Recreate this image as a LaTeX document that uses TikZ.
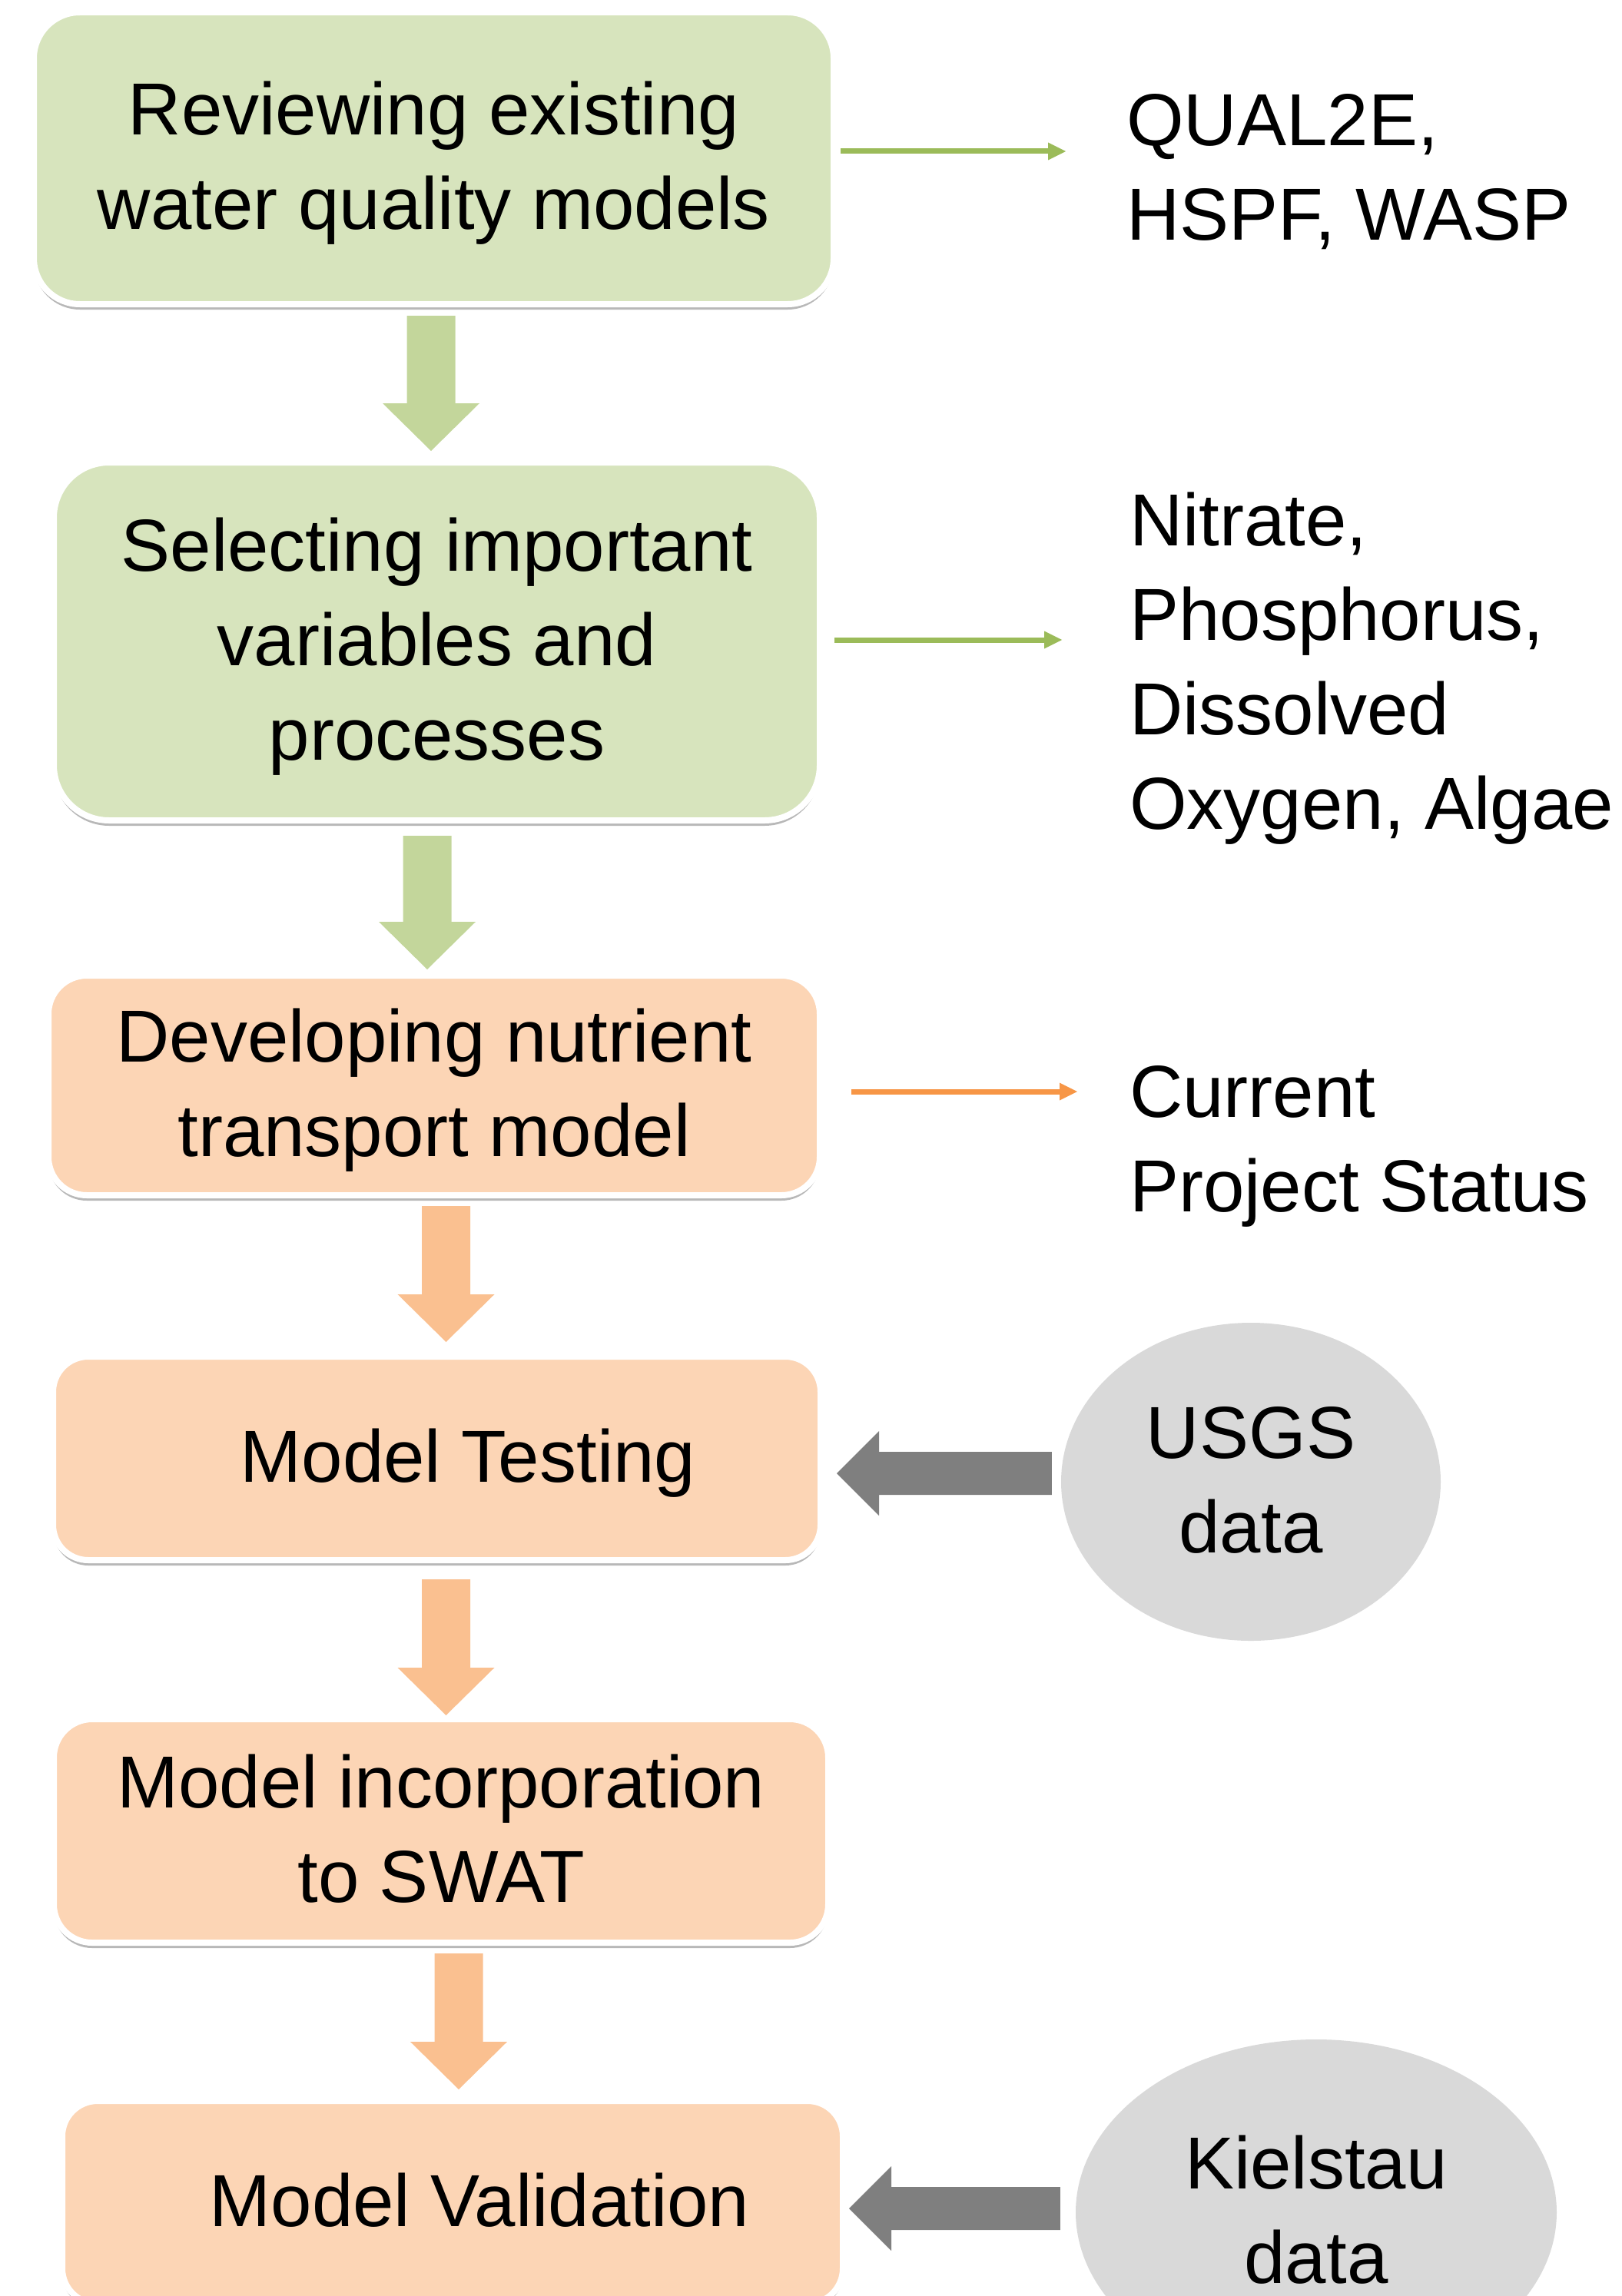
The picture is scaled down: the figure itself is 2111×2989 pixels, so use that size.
\documentclass[tikz,border=0pt]{standalone}
\usepackage{fontspec}
\setmainfont{Liberation Sans}
\usetikzlibrary{shapes.geometric,arrows.meta,calc,shadows}
\definecolor{gfill}{HTML}{D7E4BD}
\definecolor{ofill}{HTML}{FCD5B5}
\definecolor{garr}{HTML}{C3D69B}
\definecolor{oarr}{HTML}{FAC090}
\definecolor{gline}{HTML}{9BBB59}
\definecolor{oline}{HTML}{F79646}
\definecolor{grayfill}{HTML}{D9D9D9}
\definecolor{grayarr}{HTML}{7F7F7F}
\newcommand\tstr{\rule{0pt}{82pt}}
\newcommand\bstr{\rule[-20pt]{0pt}{20pt}}
% vertical block arrow: start (top), tip (bottom), colour
\newcommand\vblock[3]{%
  \fill[#3] let \p1=(#1), \p2=(#2) in
    (\x1-31.5pt,\y1) -- (\x1+31.5pt,\y1) -- (\x1+31.5pt,\y2+62pt) -- (\x1+63pt,\y2+62pt)
    -- (\x2,\y2) -- (\x1-63pt,\y2+62pt) -- (\x1-31.5pt,\y2+62pt) -- cycle;}
% horizontal block arrow pointing left: start (right end), tip (left), colour
\newcommand\hblock[3]{%
  \fill[#3] let \p1=(#1), \p2=(#2) in
    (\x1,\y1-28pt) -- (\x2+55pt,\y1-28pt) -- (\x2+55pt,\y1-55pt) -- (\x2,\y2)
    -- (\x2+55pt,\y1+55pt) -- (\x2+55pt,\y1+28pt) -- (\x1,\y1+28pt) -- cycle;}
\begin{document}
\begin{tikzpicture}[x=1pt,y=-1pt,
  every node/.style={font=\fontsize{96}{123}\selectfont, inner sep=0pt},
  box/.style={rectangle, draw=white, line width=8pt, align=center,
    drop shadow={shadow xshift=0pt, shadow yshift=-7pt, opacity=0.28, fill=black}},
  gbox/.style={box, fill=gfill},
  obox/.style={box, fill=ofill},
  blob/.style={ellipse, fill=grayfill, align=center},
  side/.style={anchor=north west, align=left},
  thinarrow/.style={line width=7pt, -{Triangle[width=23pt,length=23pt,line width=0pt]}}]
\useasboundingbox (0,0) rectangle (2111,2989);

% boxes
\node[gbox, rounded corners=60pt, minimum width=1041pt, minimum height=380pt] (b1) at (564.5,206)
  {\tstr Reviewing existing\\water quality models\bstr};
\node[gbox, rounded corners=72pt, minimum width=997pt, minimum height=466pt] (b2) at (568.5,835)
  {\tstr Selecting important\\variables and\\processes\bstr};
\node[obox, rounded corners=50pt, minimum width=1004pt, minimum height=286pt] (b3) at (565,1413)
  {\tstr Developing nutrient\\transport model\bstr};
\node[obox, rounded corners=46pt, minimum width=999pt, minimum height=265pt] (b4) at (568.5,1898.5)
  {\tstr\hspace*{81pt}Model Testing\bstr};
\node[obox, rounded corners=50pt, minimum width=1008pt, minimum height=291pt] (b5) at (574,2383.5)
  {\tstr Model incorporation\\to SWAT\bstr};
\node[obox, rounded corners=46pt, minimum width=1016pt, minimum height=264pt] (b6) at (589,2867)
  {\tstr\hspace*{70pt}Model Validation\bstr};

% data ellipses
\node[blob, minimum width=494pt, minimum height=414pt] (usgs) at (1628,1929) {\tstr USGS\\data\bstr};
\node[blob, minimum width=626pt, minimum height=450pt] (kiel) at (1713,2880) {\tstr Kielstau\\data\bstr};

% side texts
\node[side] (t1) at (1466,107) {\tstr QUAL2E,\\HSPF, WASP};
\node[side] (t2) at (1470,628) {\tstr Nitrate,\\Phosphorus,\\Dissolved\\Oxygen, Algae};
\node[side] (t3) at (1470,1372) {\tstr Current\\Project Status};

% down block arrows
\coordinate (a1s) at ($(b1.south)+(-3.5,11)$);  \coordinate (a1e) at ($(b2.north)+(-7.5,-11)$);
\coordinate (a2s) at ($(b2.south)+(-12.5,16)$); \coordinate (a2e) at ($(b3.north)+(-9,-4)$);
\coordinate (a3s) at ($(b3.south)+(15.5,10)$);  \coordinate (a3e) at ($(b4.north)+(12,-15)$);
\coordinate (a4s) at ($(b4.south)+(12,21)$);    \coordinate (a4e) at ($(b5.north)+(6.5,-1)$);
\coordinate (a5s) at ($(b5.south)+(23,10)$);    \coordinate (a5e) at ($(b6.north)+(8,-11)$);
\vblock{a1s}{a1e}{garr}
\vblock{a2s}{a2e}{garr}
\vblock{a3s}{a3e}{oarr}
\vblock{a4s}{a4e}{oarr}
\vblock{a5s}{a5e}{oarr}

% grey input arrows
\coordinate (g1s) at ($(usgs.west)+(-12,-11)$); \coordinate (g1e) at ($(b4.east)+(17,19.5)$);
\coordinate (g2s) at ($(kiel.west)+(-20,-5)$);  \coordinate (g2e) at ($(b6.east)+(4,8)$);
\hblock{g1s}{g1e}{grayarr}
\hblock{g2s}{g2e}{grayarr}

% thin output arrows
\coordinate (r1s) at ($(b1.east)+(5,-9)$);   \coordinate (r1e) at (1387,197);
\coordinate (r2s) at ($(b2.east)+(15,-2)$);  \coordinate (r2e) at (1382,833);
\coordinate (r3s) at ($(b3.east)+(37,8)$);   \coordinate (r3e) at (1402,1421);
\draw[thinarrow, gline] (r1s) -- (r1e);
\draw[thinarrow, gline] (r2s) -- (r2e);
\draw[thinarrow, oline] (r3s) -- (r3e);
\end{tikzpicture}
\end{document}
